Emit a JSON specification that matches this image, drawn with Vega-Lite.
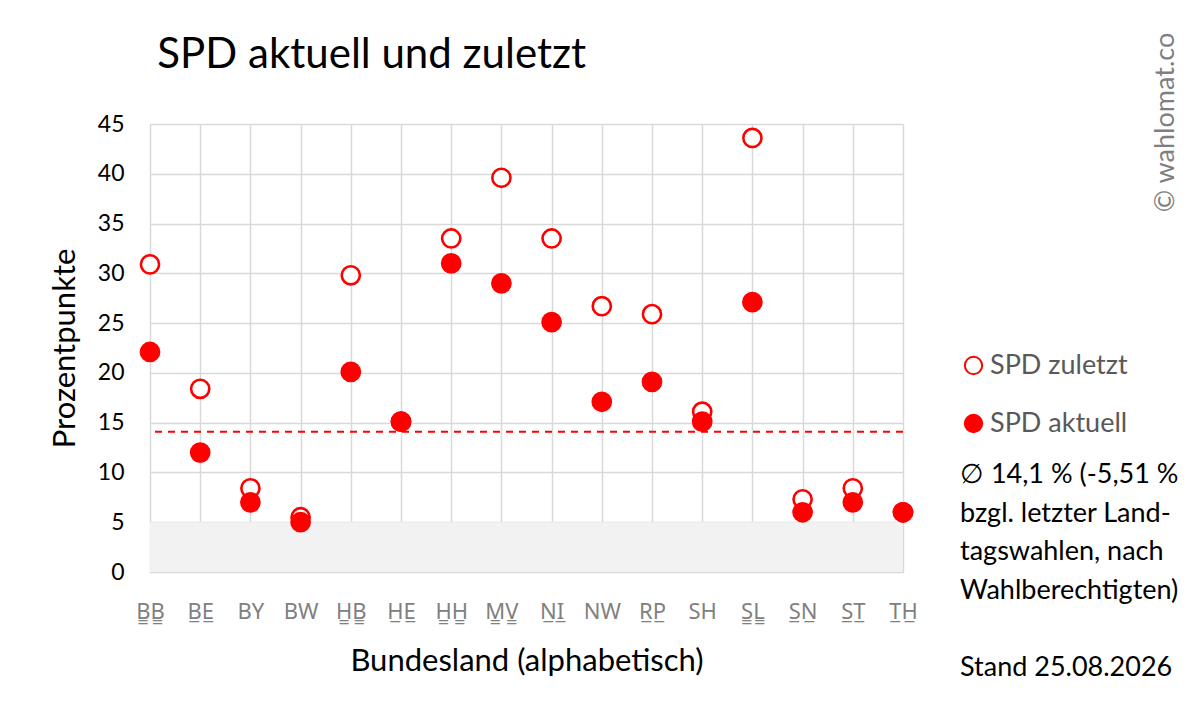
{
  "$schema": "https://vega.github.io/schema/vega-lite/v6.json",
  "width": 753,
  "height": 448,
  "autosize": "none",
  "padding": {"left": 150, "top": 124, "right": 299, "bottom": 149},
  "background": "white",
  "title": {
    "text": "SPD aktuell und zuletzt",
    "anchor": "start",
    "dx": 108,
    "offset": 0,
    "dy": 78,
    "baseline": "alphabetic",
    "fontSize": 42,
    "fontWeight": "normal",
    "font": "Lato",
    "color": "#000000"
  },
  "config": {
    "font": "Lato",
    "view": {"stroke": null}
  },
  "datasets": {
    "punkte": [
      {"land": "BB", "serie": "SPD zuletzt", "wert": 30.9},
      {"land": "BE", "serie": "SPD zuletzt", "wert": 18.4},
      {"land": "BY", "serie": "SPD zuletzt", "wert": 8.4},
      {"land": "BW", "serie": "SPD zuletzt", "wert": 5.5},
      {"land": "HB", "serie": "SPD zuletzt", "wert": 29.8},
      {"land": "HE", "serie": "SPD zuletzt", "wert": 15.1},
      {"land": "HH", "serie": "SPD zuletzt", "wert": 33.5},
      {"land": "MV", "serie": "SPD zuletzt", "wert": 39.6},
      {"land": "NI", "serie": "SPD zuletzt", "wert": 33.5},
      {"land": "NW", "serie": "SPD zuletzt", "wert": 26.7},
      {"land": "RP", "serie": "SPD zuletzt", "wert": 25.9},
      {"land": "SH", "serie": "SPD zuletzt", "wert": 16.1},
      {"land": "SL", "serie": "SPD zuletzt", "wert": 43.6},
      {"land": "SN", "serie": "SPD zuletzt", "wert": 7.3},
      {"land": "ST", "serie": "SPD zuletzt", "wert": 8.4},
      {"land": "TH", "serie": "SPD zuletzt", "wert": 6.0},
      {"land": "BB", "serie": "SPD aktuell", "wert": 22.1},
      {"land": "BE", "serie": "SPD aktuell", "wert": 12.0},
      {"land": "BY", "serie": "SPD aktuell", "wert": 7.0},
      {"land": "BW", "serie": "SPD aktuell", "wert": 5.0},
      {"land": "HB", "serie": "SPD aktuell", "wert": 20.1},
      {"land": "HE", "serie": "SPD aktuell", "wert": 15.1},
      {"land": "HH", "serie": "SPD aktuell", "wert": 31.0},
      {"land": "MV", "serie": "SPD aktuell", "wert": 29.0},
      {"land": "NI", "serie": "SPD aktuell", "wert": 25.1},
      {"land": "NW", "serie": "SPD aktuell", "wert": 17.1},
      {"land": "RP", "serie": "SPD aktuell", "wert": 19.1},
      {"land": "SH", "serie": "SPD aktuell", "wert": 15.1},
      {"land": "SL", "serie": "SPD aktuell", "wert": 27.1},
      {"land": "SN", "serie": "SPD aktuell", "wert": 6.0},
      {"land": "ST", "serie": "SPD aktuell", "wert": 7.0},
      {"land": "TH", "serie": "SPD aktuell", "wert": 6.0}
    ]
  },
  "layer": [
    {
      "data": {"values": [{"von": 0, "bis": 5}]},
      "mark": {"type": "rect", "color": "#f2f2f2"},
      "encoding": {
        "y": {"field": "von", "type": "quantitative", "scale": {"domain": [0, 45]}, "axis": null},
        "y2": {"field": "bis"}
      }
    },
    {
      "data": {"name": "punkte"},
      "mark": {"type": "point", "shape": "circle", "stroke": "#ff0000", "strokeWidth": 2.6, "opacity": 1, "size": 330},
      "encoding": {
        "x": {
          "field": "land",
          "type": "nominal",
          "sort": ["BB", "BE", "BY", "BW", "HB", "HE", "HH", "MV", "NI", "NW", "RP", "SH", "SL", "SN", "ST", "TH"],
          "scale": {"type": "point", "padding": 0},
          "axis": {
            "title": "Bundesland (alphabetisch)",
            "titleFontSize": 31,
            "titleFontWeight": "normal",
            "titleColor": "#000000",
            "titlePadding": 24,
            "labelFont": "Noto Sans",
            "labelFontSize": 22,
            "labelColor": "#808080",
            "labelPadding": 29,
            "labelAngle": 0,
            "labelExpr": "indexof(['BB','HB','HH','MV','SL'], datum.value) >= 0 ? join(split(datum.value, ''), '\u0333') + '\u0333' : indexof(['BE','HE','NI','RP','SN','ST','TH'], datum.value) >= 0 ? join(split(datum.value, ''), '\u0332') + '\u0332' : datum.value",
            "ticks": false,
            "domain": false,
            "grid": true,
            "gridColor": "#d9d9d9",
            "gridWidth": 1.5
          }
        },
        "y": {
          "field": "wert",
          "type": "quantitative",
          "scale": {"domain": [0, 45]},
          "axis": {
            "title": "Prozentpunkte",
            "titleFontSize": 31,
            "titleFontWeight": "normal",
            "titleColor": "#000000",
            "titlePadding": 16,
            "values": [0, 5, 10, 15, 20, 25, 30, 35, 40, 45],
            "labelFontSize": 23,
            "labelColor": "#000000",
            "labelPadding": 26,
            "ticks": false,
            "domain": false,
            "grid": true,
            "gridColor": "#d9d9d9",
            "gridWidth": 1.5
          }
        },
        "fill": {
          "field": "serie",
          "type": "nominal",
          "scale": {"domain": ["SPD zuletzt", "SPD aktuell"], "range": ["#ffffff", "#ff0000"]},
          "legend": {
            "orient": "none",
            "legendX": 810,
            "legendY": 228,
            "direction": "vertical",
            "symbolType": "circle",
            "symbolSize": 300,
            "symbolStrokeColor": "#ff0000",
            "symbolStrokeWidth": 2,
            "labelFontSize": 27,
            "labelColor": "#595959",
            "labelOffset": 3,
            "rowPadding": 30,
            "title": ["\u2205 14,1 % (-5,51 %", "bzgl. letzter Land-", "tagswahlen, nach", "Wahlberechtigten)", "\u2800", "Stand 25.08.2026"],
            "titleOrient": "bottom",
            "titleAnchor": "start",
            "titleFontSize": 27,
            "titleFontWeight": "normal",
            "titleColor": "#000000",
            "titleLineHeight": 38.5,
            "titlePadding": 25,
            "titleLimit": 300
          }
        }
      }
    },
    {
      "data": {"values": [{"schnitt": 14.1}]},
      "mark": {"type": "rule", "color": "#ff0000", "strokeWidth": 2, "strokeDash": [7, 6]},
      "encoding": {
        "y": {
          "field": "schnitt",
          "type": "quantitative",
          "scale": {"domain": [0, 45]},
          "axis": {
            "orient": "right",
            "labels": false,
            "ticks": false,
            "domain": false,
            "grid": false,
            "title": "\u00a9 wahlomat.co",
            "titleFontSize": 27,
            "titleFontWeight": "normal",
            "titleColor": "#7f7f7f",
            "titleAngle": 270,
            "titleX": 262,
            "titleY": -2,
            "titleAlign": "center",
            "titleBaseline": "middle"
          }
        }
      }
    }
  ],
  "resolve": {"scale": {"y": "independent"}, "axis": {"y": "independent"}}
}
